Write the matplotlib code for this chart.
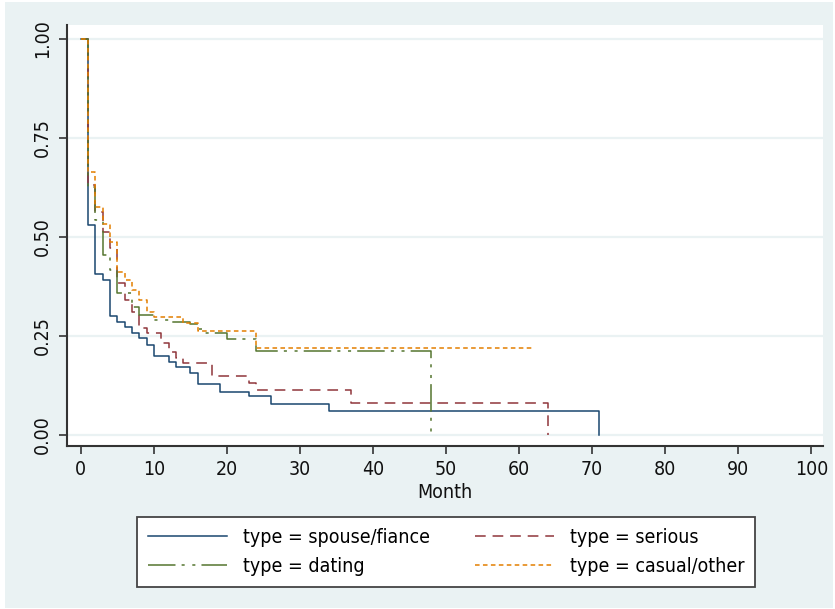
import matplotlib
matplotlib.use('Agg')
import matplotlib.pyplot as plt
from matplotlib.patches import Rectangle

BG = '#eaf2f3'

# Kaplan-Meier step data (month, survival)
spouse_t = [0, 1, 2, 3, 4, 5, 6, 7, 8, 9, 10, 12, 13, 15, 16, 19, 23, 26, 34, 71]
spouse_s = [1.0, 0.53, 0.407, 0.391, 0.30, 0.286, 0.272, 0.258, 0.244, 0.226,
            0.198, 0.185, 0.171, 0.156, 0.128, 0.109, 0.097, 0.078, 0.061, 0.0]

serious_t = [0, 1, 2, 3, 4, 5, 6, 7, 8, 9, 11, 12, 13, 14, 18, 23, 24, 37, 64]
serious_s = [1.0, 0.631, 0.563, 0.513, 0.471, 0.383, 0.341, 0.311, 0.269, 0.257,
             0.232, 0.21, 0.194, 0.181, 0.149, 0.13, 0.114, 0.080, 0.0]

dating_t = [0, 1, 2, 3, 4, 5, 7, 8, 10, 12, 15, 16, 17, 20, 24, 48]
dating_s = [1.0, 0.627, 0.543, 0.455, 0.417, 0.358, 0.322, 0.303, 0.290, 0.286,
            0.28, 0.267, 0.258, 0.242, 0.213, 0.0]

casual_t = [0, 1, 2, 3, 4, 5, 6, 7, 8, 9, 10, 14, 16, 24, 62]
casual_s = [1.0, 0.664, 0.576, 0.533, 0.488, 0.412, 0.391, 0.366, 0.341, 0.311,
            0.297, 0.283, 0.263, 0.219, 0.219]

labels = ['type = spouse/fiance', 'type = serious', 'type = dating', 'type = casual/other']
x_ticks = list(range(0, 101, 10))
y_ticks = [0.0, 0.25, 0.5, 0.75, 1.0]
y_tick_labels = ['0.00', '0.25', '0.50', '0.75', '1.00']

plt.rcParams['font.family'] = ['DejaVu Sans']
plt.rcParams['font.stretch'] = 'condensed'

fig = plt.figure(figsize=(8.35, 6.09), dpi=100)
fig.patch.set_facecolor('white')
fig.patches.append(Rectangle((5 / 835, 1 / 609), 828 / 835, 606 / 609,
                             transform=fig.transFigure, facecolor=BG,
                             edgecolor='none', zorder=-10))

ax = fig.add_axes([67 / 835, 1 - 446 / 609, 756 / 835, 421 / 609])
ax.set_facecolor('white')

l1, = ax.step(spouse_t, spouse_s, where='post', color='#1a476f', lw=1.1)
l2, = ax.step(serious_t, serious_s, where='post', color='#90353b', lw=1.1,
              linestyle=(0, (7, 4.5)))
l3, = ax.step(dating_t, dating_s, where='post', color='#55752f', lw=1.1,
              linestyle=(0, (18, 4, 2, 5, 2, 4)))
l4, = ax.step(casual_t, casual_s, where='post', color='#e37e00', lw=1.1,
              linestyle=(0, (3, 2.2)))

ax.set_xlim(-1.9, 101.6)
ax.set_ylim(-0.028, 1.035)
ax.set_xticks(x_ticks)
ax.set_yticks(y_ticks)
ax.set_yticklabels(y_tick_labels, rotation=90, va='center')
ax.tick_params(axis='both', direction='out', length=6, width=1.2,
               color='#333333', labelsize=14, labelcolor='#111111')
ax.tick_params(axis='x', pad=4)
ax.tick_params(axis='y', pad=5)
ax.grid(axis='y', color=BG, lw=1.6)
ax.set_axisbelow(True)
for side in ['top', 'right']:
    ax.spines[side].set_visible(False)
for side in ['left', 'bottom']:
    ax.spines[side].set_color('#333333')
    ax.spines[side].set_linewidth(1.5)

ax.set_xlabel('Month', fontsize=14, color='#111111', labelpad=3)

# legend fills by column, so order handles to get two rows as in the original
leg = fig.legend([l1, l3, l2, l4], [labels[0], labels[2], labels[1], labels[3]],
                 loc='center', bbox_to_anchor=(446 / 835, 1 - 552 / 609),
                 ncol=2, fontsize=14, frameon=True, fancybox=False,
                 framealpha=1, handlelength=4.1, handletextpad=0.8,
                 columnspacing=2.3, labelspacing=0.5, borderpad=0.55)
leg.get_frame().set_edgecolor('#444444')
leg.get_frame().set_linewidth(1.3)

fig.savefig('out.png', dpi=100, facecolor=fig.get_facecolor())
